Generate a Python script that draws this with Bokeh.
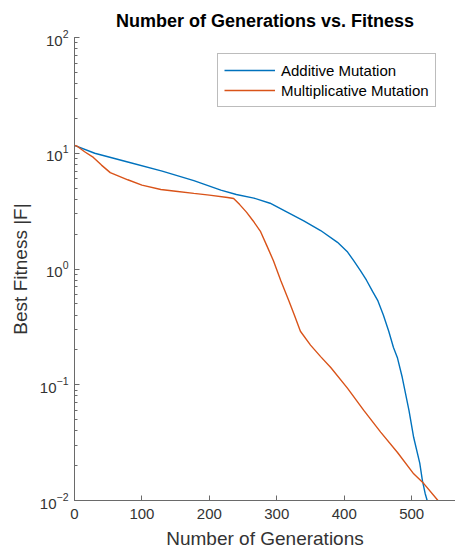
from bokeh.plotting import figure
from bokeh.embed import file_html
from bokeh.resources import INLINE
from bokeh.models import Range1d, Legend, LegendItem, FixedTicker

# Data
gen_add = [0, 30, 79, 130, 177, 217, 240, 266, 290, 316, 340, 365, 390, 405, 414, 424, 433, 442, 450, 458,
           466, 473, 479, 486, 496, 503, 512, 516, 520, 523]
fit_add = [11.7, 10.0, 8.4, 7.0, 5.8, 4.8, 4.4, 4.1, 3.7, 3.08, 2.6, 2.15, 1.7, 1.4, 1.18, 0.97, 0.80, 0.64, 0.53, 0.40,
           0.29, 0.21, 0.17, 0.116, 0.06, 0.035, 0.021, 0.0148, 0.0115, 0.0100]

gen_mul = [0, 4, 15, 28, 40, 53, 79, 100, 128, 150, 177, 200, 227, 236, 245, 255, 265, 276, 285, 295, 306, 318,
           326, 335, 350, 365, 380, 405, 429, 454, 479, 503, 518, 539]
fit_mul = [11.7, 11.5, 10.3, 9.2, 7.9, 6.8, 5.9, 5.3, 4.86, 4.7, 4.5, 4.35, 4.15, 4.07, 3.6, 3.1, 2.6, 2.1, 1.6, 1.18, 0.79, 0.53,
           0.40, 0.29, 0.22, 0.175, 0.141, 0.093, 0.06, 0.039, 0.026, 0.017, 0.014, 0.0100]

x_ticks = [0, 100, 200, 300, 400, 500]

p = figure(width=455, height=554, y_axis_type="log",
           x_range=Range1d(0, 565), y_range=Range1d(0.01, 100),
           output_backend="svg", toolbar_location=None,
           title="Number of Generations vs. Fitness",
           min_border_left=74, min_border_right=0, min_border_top=37, min_border_bottom=54)

p.outline_line_color = None
p.xgrid.visible = False
p.ygrid.visible = False

p.title.align = "center"
p.title.text_font = "Liberation Sans"
p.title.text_font_size = "18px"
p.title.text_font_style = "bold"
p.title.text_color = "#000000"
p.title.standoff = 13

r1 = p.line(gen_add, fit_add, line_color="#0072BD", line_width=1.4)
r2 = p.line(gen_mul, fit_mul, line_color="#D95319", line_width=1.4)

for ax in (p.xaxis[0], p.yaxis[0]):
    ax.axis_line_color = "#6a6a6a"
    ax.major_tick_line_color = "#6a6a6a"
    ax.minor_tick_line_color = "#6a6a6a"
    ax.major_tick_in = 5
    ax.major_tick_out = 0
    ax.minor_tick_in = 3
    ax.minor_tick_out = 0
    ax.major_label_text_font = "Liberation Sans"
    ax.major_label_text_font_size = "15px"
    ax.major_label_text_color = "#333333"
    ax.axis_label_text_font = "Liberation Sans"
    ax.axis_label_text_font_size = "19px"
    ax.axis_label_text_font_style = "normal"
    ax.axis_label_text_color = "#333333"

p.xaxis.ticker = FixedTicker(ticks=x_ticks)
p.xaxis.minor_tick_line_color = None
p.xaxis.axis_label = "Number of Generations"
p.yaxis.axis_label = "Best Fitness |F|"
p.xaxis.major_label_standoff = 8
p.yaxis.major_label_standoff = 6
p.xaxis.axis_label_standoff = 6
p.yaxis.axis_label_standoff = 6

legend = Legend(items=[LegendItem(label="Additive Mutation", renderers=[r1]),
                       LegendItem(label="Multiplicative Mutation", renderers=[r2])],
                location=(143, 393))
legend.label_text_font = "Liberation Sans"
legend.label_text_font_size = "15px"
legend.label_text_color = "#000000"
legend.glyph_width = 51
legend.glyph_height = 20
legend.label_height = 20
legend.spacing = 0
legend.padding = 6
legend.margin = 0
legend.label_standoff = 6
legend.border_line_color = "#7a7a7a"
legend.border_line_width = 1
legend.background_fill_color = "white"
legend.background_fill_alpha = 1.0
p.add_layout(legend, "center")

open("out.html", "w").write(file_html(p, INLINE))
